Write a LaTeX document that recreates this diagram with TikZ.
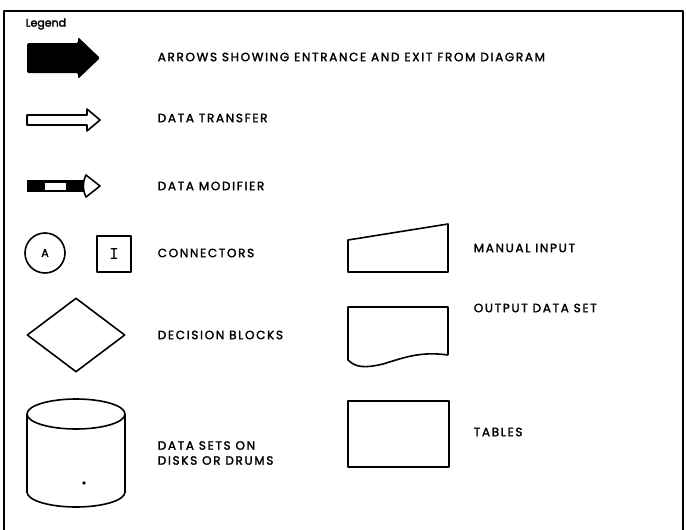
\documentclass[tikz,border=0pt]{standalone}
\usepackage{fontspec}
\setmainfont{Poppins}
\newfontfamily\lblfont{Poppins}[LetterSpace=14, FakeBold=2]
\newfontfamily\headfont{Poppins}[FakeBold=2.5]
\usetikzlibrary{shapes.geometric}
\begin{document}
\begin{tikzpicture}[x=1pt,y=-1pt,
  line width=1.6pt, line join=round,
  lbl/.style={anchor=west, inner sep=0pt, font=\lblfont\fontsize{12}{14}\selectfont},
  shapeline/.style={draw=black, line width=1.6pt, fill=white}]
\useasboundingbox (0,0) rectangle (686,530);

% open frame (no bottom rule)
\draw[line width=1.4pt] (4,530) -- (4,11) -- (683,11) -- (683,530);
\node[anchor=west, inner sep=0pt, font=\headfont\fontsize{11}{13}\selectfont] (legend) at (25,24) {Legend};

% entrance / exit arrow
\fill[rounded corners=1.5pt] (27,43) -- (78,43) -- (78,37) -- (100,58) -- (78,79) -- (78,73) -- (27,73) -- cycle;
\node[lbl] (tentry) at (157,57) {ARROWS SHOWING ENTRANCE AND EXIT FROM DIAGRAM};

% data transfer arrow
\draw[shapeline] (27,115) -- (87,115) -- (87,109) -- (100,120) -- (87,131) -- (87,125) -- (27,125) -- cycle;
\node[lbl] (ttransfer) at (157,118) {DATA TRANSFER};

% data modifier arrow
\fill (27,180) rectangle (86,192);
\fill[white] (45,182.5) rectangle (66,189.5);
\draw[shapeline] (86,175) -- (100,186) -- (86,197) to[bend left=25] cycle;
\node[lbl] (tmodifier) at (157,186) {DATA MODIFIER};

% connectors
\node[circle, draw, line width=1.6pt, minimum size=40pt, inner sep=0pt,
      font=\headfont\fontsize{11}{13}\selectfont] (conA) at (45,253) {A};
\node[rectangle, draw, line width=1.6pt, minimum width=34pt, minimum height=36pt, inner sep=0pt,
      font=\ttfamily\bfseries\fontsize{18}{19}\selectfont] (conI) at (114,254) {I};
\node[lbl] (tconn) at (157,253) {CONNECTORS};

% decision block
\node[diamond, draw, line width=1.6pt, minimum width=98pt, minimum height=74pt, inner sep=0pt] (decision) at (76,335) {};
\node[lbl] (tdecision) at (157,335) {DECISION BLOCKS};

% disk / drum data set
\draw[shapeline] (27,414) -- (27,492) arc[start angle=180, end angle=360, x radius=49, y radius=-15] -- (125,414);
\draw[shapeline] (76,414) ellipse[x radius=49, y radius=15];
\fill (84,483) circle[radius=1.9];
\node[lbl, align=left] (tdisk) at (157,453) {DATA SETS ON\\[1pt]DISKS OR DRUMS};

% manual input
\draw[shapeline] (348,240) -- (448,224) -- (448,272) -- (348,272) -- cycle;
\node[lbl] (tmanual) at (473,248) {MANUAL INPUT};

% output data set (document shape)
\draw[shapeline] (448,355) -- (448,307) -- (348,307) -- (348,360)
  .. controls (356,368) and (366,368) .. (383,364)
  .. controls (403,358) and (420,351) .. (448,355);
\node[lbl] (toutput) at (473,308) {OUTPUT DATA SET};

% tables
\node[rectangle, draw, line width=1.6pt, minimum width=101pt, minimum height=66pt, inner sep=0pt] (tables) at (398.5,434) {};
\node[lbl] (ttables) at (473,432) {TABLES};
\end{tikzpicture}
\end{document}
